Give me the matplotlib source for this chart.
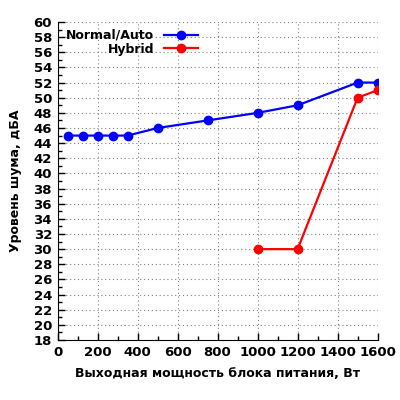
import matplotlib
matplotlib.use("Agg")
import matplotlib.pyplot as plt
from matplotlib.ticker import MultipleLocator

# data
normal_x = [50, 125, 200, 275, 350, 500, 750, 1000, 1200, 1500, 1600]
normal_y = [45, 45, 45, 45, 45, 46, 47, 48, 49, 52, 52]
hybrid_x = [1000, 1200, 1500, 1600]
hybrid_y = [30, 30, 50, 51]

fig = plt.figure(figsize=(4, 4), dpi=100)
ax = fig.add_axes([0.144, 0.15, 0.8, 0.795])

ax.plot(normal_x, normal_y, color="blue", lw=1.6, marker="o", ms=6, label="Normal/Auto", zorder=3)
ax.plot(hybrid_x, hybrid_y, color="red", lw=1.6, marker="o", ms=6, label="Hybrid", zorder=3)

ax.set_xlim(0, 1600)
ax.set_ylim(18, 60)
ax.xaxis.set_major_locator(MultipleLocator(200))
ax.xaxis.set_minor_locator(MultipleLocator(100))
ax.yaxis.set_major_locator(MultipleLocator(2))
ax.yaxis.set_minor_locator(MultipleLocator(1))
ax.grid(True, which="major", color="#808080", linestyle=(0, (1, 2.5)), lw=0.8)
ax.tick_params(which="both", direction="in", labelsize=9.5, width=1)
ax.tick_params(which="major", length=5, pad=4)
ax.tick_params(which="minor", length=3)
for lab in ax.get_xticklabels() + ax.get_yticklabels():
    lab.set_fontweight("bold")
ax.spines["top"].set_visible(False)
ax.spines["right"].set_visible(False)

ax.set_xlabel("Выходная мощность блока питания, Вт", fontsize=9, fontweight="bold", labelpad=6)
ax.set_ylabel("Уровень шума, дБА", fontsize=9, fontweight="bold", labelpad=8)

leg = ax.legend(loc="upper left", frameon=False, markerfirst=False, prop={"weight": "bold", "size": 9},
                handlelength=2.7, borderaxespad=0.15, labelspacing=0.05, bbox_to_anchor=(0.005, 1.0))

fig.savefig("out.png", dpi=100)
